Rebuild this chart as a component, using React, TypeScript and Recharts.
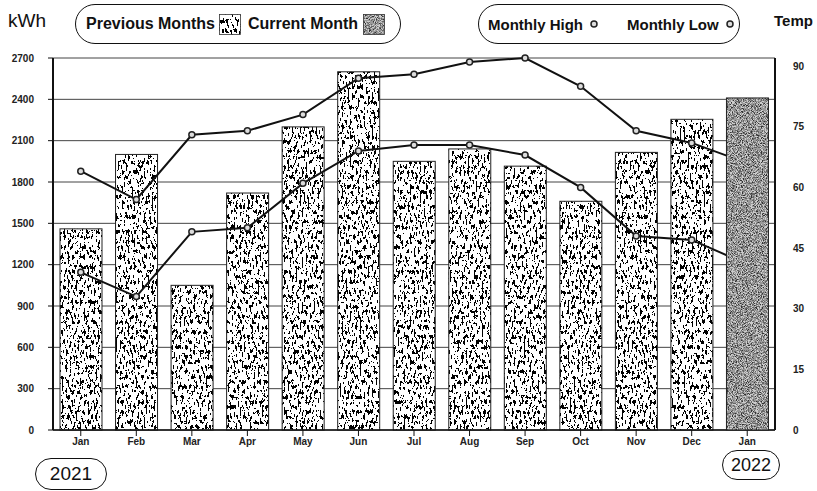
import React from 'react';
import {
  ComposedChart,
  Bar,
  Line,
  XAxis,
  YAxis,
  CartesianGrid,
} from 'recharts';

const months = ['Jan', 'Feb', 'Mar', 'Apr', 'May', 'Jun', 'Jul', 'Aug', 'Sep', 'Oct', 'Nov', 'Dec', 'Jan'];
const previousKwh = [1460, 2000, 1050, 1720, 2200, 2600, 1950, 2040, 1915, 1660, 2015, 2255, null];
const currentKwh = [null, null, null, null, null, null, null, null, null, null, null, null, 2410];
const monthlyHigh = [64, 57, 73, 74, 78, 87, 88, 91, 92, 85, 74, 71, 66];
const monthlyLow = [39, 33, 49, 50, 61, 69, 70.5, 70.5, 68, 60, 48, 47, 41];
const kwhTicks = [0, 300, 600, 900, 1200, 1500, 1800, 2100, 2400, 2700];
const tempTicks = [0, 15, 30, 45, 60, 75, 90];

const FONT = "'Liberation Sans', Arial, sans-serif";

const data = months.map((m, i) => ({
  idx: i,
  month: m,
  previous: previousKwh[i],
  current: currentKwh[i],
  high: monthlyHigh[i],
  low: monthlyLow[i],
}));

// red channel only, contrast pushed around the middle
const PREV_M = '3 0 0 0 -0.77  3 0 0 0 -0.77  3 0 0 0 -0.77  0 0 0 0 1';
const CUR_M = '2 0 0 0 -0.4  2 0 0 0 -0.4  2 0 0 0 -0.4  0 0 0 0 1';

function NoiseFilters({ prefix }: { prefix: string }) {
  return (
    <defs>
      <filter id={`${prefix}-prev`} x="0" y="0" width="1" height="1" colorInterpolationFilters="sRGB">
        <feTurbulence type="fractalNoise" baseFrequency="0.5 0.2" numOctaves="3" seed="5" result="n" />
        <feColorMatrix in="n" type="matrix" values={PREV_M} result="g" />
        <feComponentTransfer in="g" result="c">
          <feFuncR type="discrete" tableValues="0 1" />
          <feFuncG type="discrete" tableValues="0 1" />
          <feFuncB type="discrete" tableValues="0 1" />
        </feComponentTransfer>
        <feComposite in="c" in2="SourceGraphic" operator="in" />
      </filter>
      <filter id={`${prefix}-cur`} x="0" y="0" width="1" height="1" colorInterpolationFilters="sRGB">
        <feTurbulence type="fractalNoise" baseFrequency="1.2 0.9" numOctaves="2" seed="9" result="n" />
        <feColorMatrix in="n" type="matrix" values={CUR_M} result="g" />
        <feComponentTransfer in="g" result="c">
          <feFuncR type="discrete" tableValues="0.2 0.4 0.6 0.8" />
          <feFuncG type="discrete" tableValues="0.2 0.4 0.6 0.8" />
          <feFuncB type="discrete" tableValues="0.2 0.4 0.6 0.8" />
        </feComponentTransfer>
        <feComposite in="c" in2="SourceGraphic" operator="in" />
      </filter>
    </defs>
  );
}

function TexturedBar(props: any, kind: 'prev' | 'cur', prefix: string) {
  const { x, y, width, height } = props;
  if (!height || height <= 0) return <g />;
  return (
    <g>
      <rect x={x} y={y} width={width} height={height} fill="#888" filter={`url(#${prefix}-${kind})`} />
      <rect x={x} y={y} width={width} height={height} fill="none" stroke="#222" strokeWidth={1} />
    </g>
  );
}

function Swatch({ kind }: { kind: 'prev' | 'cur' }) {
  return (
    <svg width={22} height={21} style={{ display: 'block', flexShrink: 0 }}>
      <NoiseFilters prefix={`sw-${kind}`} />
      <rect x={0.5} y={0.5} width={21} height={20} fill="#888" filter={`url(#sw-${kind}-${kind})`} />
      <rect x={0.5} y={0.5} width={21} height={20} fill="none" stroke="#333" strokeWidth={0.8} />
    </svg>
  );
}

function Marker() {
  return (
    <svg width={10} height={10} style={{ display: 'block', flexShrink: 0, margin: '0 6px' }}>
      <circle cx={5} cy={5} r={3} fill="#ddd" stroke="#222" strokeWidth={1.5} />
    </svg>
  );
}

const dotStyle = { r: 3, fill: '#ddd', stroke: '#222', strokeWidth: 1.5 };

const tickStyle = { fontSize: 10, fill: '#222', fontFamily: FONT, fontWeight: 'bold' } as any;

const pill: React.CSSProperties = {
  position: 'absolute',
  border: '1.5px solid #111',
  borderRadius: 20,
  boxSizing: 'border-box',
  display: 'flex',
  alignItems: 'center',
  whiteSpace: 'nowrap',
  fontFamily: FONT,
  fontWeight: 'bold',
  fontSize: 16,
  color: '#111',
};

export default function App() {
  return (
    <div style={{ position: 'absolute', left: 0, top: 0, width: 817, height: 491, background: '#fff', fontFamily: FONT }}>
      <ComposedChart
        width={817}
        height={491}
        data={data}
        margin={{ top: 58, right: 0, bottom: 31, left: 0 }}
        barCategoryGap={14}
      >
        <NoiseFilters prefix="chart" />
        <CartesianGrid horizontal vertical={false} stroke="#444" strokeWidth={1} yAxisId="kwh" />
        <XAxis
          dataKey="idx"
          type="category"
          tickFormatter={(v: number) => months[v]}
          tick={tickStyle}
          tickSize={6}
          tickMargin={2}
          height={30}
          axisLine={{ stroke: '#111', strokeWidth: 1.5 }}
          tickLine={{ stroke: '#111' }}
        />
        <YAxis
          yAxisId="kwh"
          orientation="left"
          domain={[0, 2700]}
          ticks={kwhTicks}
          width={53}
          tickSize={5}
          tickMargin={14}
          tick={tickStyle}
          axisLine={{ stroke: '#111', strokeWidth: 2 }}
          tickLine={{ stroke: '#111' }}
        />
        <YAxis
          yAxisId="temp"
          orientation="right"
          domain={[0, 90]}
          ticks={tempTicks}
          width={42}
          tickSize={0}
          tickMargin={18}
          tick={tickStyle}
          axisLine={{ stroke: '#111', strokeWidth: 2 }}
        />
        <Bar
          yAxisId="kwh"
          dataKey="previous"
          barSize={42}
          isAnimationActive={false}
          shape={(p: any) => TexturedBar(p, 'prev', 'chart')}
        />
        <Line
          yAxisId="temp"
          dataKey="high"
          stroke="#111"
          strokeWidth={2}
          dot={dotStyle}
          activeDot={false}
          isAnimationActive={false}
        />
        <Line
          yAxisId="temp"
          dataKey="low"
          stroke="#111"
          strokeWidth={2}
          dot={dotStyle}
          activeDot={false}
          isAnimationActive={false}
        />
      </ComposedChart>

      {/* current month drawn on top of the temperature lines */}
      <div style={{ position: 'absolute', left: 0, top: 0 }}>
        <ComposedChart
          width={817}
          height={491}
          data={data}
          margin={{ top: 58, right: 42, bottom: 61, left: 53 }}
          barCategoryGap={14}
        >
          <NoiseFilters prefix="top" />
          <XAxis dataKey="idx" type="category" hide />
          <YAxis yAxisId="kwh" domain={[0, 2700]} hide />
          <Bar
            yAxisId="kwh"
            dataKey="current"
            barSize={42}
            isAnimationActive={false}
            shape={(p: any) => TexturedBar(p, 'cur', 'top')}
          />
        </ComposedChart>
      </div>

      <div style={{ position: 'absolute', left: 8, top: 10, fontSize: 19, fontFamily: FONT, color: '#111' }}>
        kWh
      </div>
      <div style={{ position: 'absolute', left: 774, top: 12, fontSize: 15, fontWeight: 'bold', color: '#111' }}>
        Temp
      </div>

      <div style={{ ...pill, left: 75, top: 4, width: 326, height: 40, paddingLeft: 10 }}>
        <span>Previous Months</span>
        <span style={{ marginLeft: 4 }}><Swatch kind="prev" /></span>
        <span style={{ marginLeft: 7 }}>Current Month</span>
        <span style={{ marginLeft: 5 }}><Swatch kind="cur" /></span>
      </div>

      <div style={{ ...pill, left: 478, top: 4, width: 262, height: 40, paddingLeft: 9, fontSize: 15 }}>
        <span>Monthly High</span>
        <Marker />
        <span style={{ marginLeft: 22 }}>Monthly Low</span>
        <Marker />
      </div>

      <div
        style={{
          ...pill,
          left: 35,
          top: 458,
          width: 72,
          height: 32,
          fontWeight: 'normal',
          fontSize: 19,
          justifyContent: 'center',
        }}
      >
        2021
      </div>
      <div
        style={{
          ...pill,
          left: 722,
          top: 450,
          width: 58,
          height: 30,
          fontWeight: 'normal',
          fontSize: 18,
          justifyContent: 'center',
        }}
      >
        2022
      </div>
    </div>
  );
}
